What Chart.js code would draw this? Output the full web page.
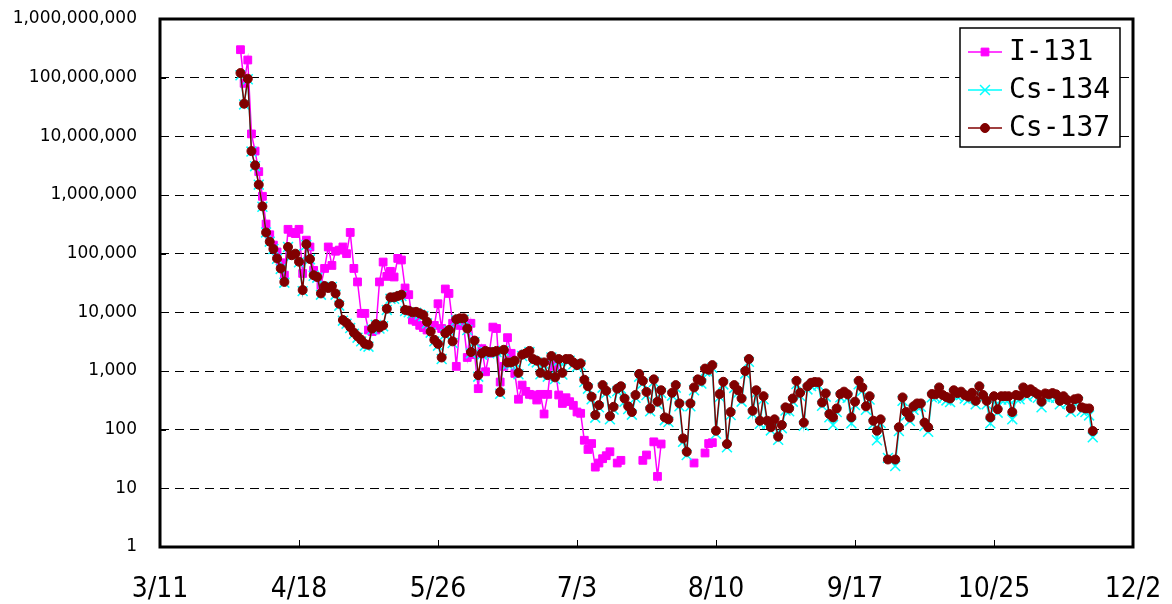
<!DOCTYPE html>
<html>
<head>
<meta charset="utf-8">
<script src="https://cdn.jsdelivr.net/npm/chart.js@4.4.0/dist/chart.umd.min.js"></script>
<style>
  body { margin: 0; background: #fff; }
  #wrap { position: relative; width: 1172px; height: 604px; }
</style>
</head>
<body>
<div id="wrap"><canvas id="chart" width="1172" height="604"></canvas></div>
<script>
// days are counted from 3/11; the first sample is 4/2 (day 22), one value per day
const firstDay = 22;
const seriesNames = ['I-131', 'Cs-134', 'Cs-137'];
const yTickValues = [1, 10, 100, 1000, 10000, 100000, 1000000, 10000000, 100000000, 1000000000];
const xTickStep = 38;

const i131 = [
  3.0e8, 8.0e7, 2.0e8, 1.1e7, 5.6e6, 2.5e6, 9.5e5, 3.2e5, 2.1e5, 1.4e5,   // 22-31
  1.07e5, 7.0e4, 4.3e4, 2.6e5, 2.3e5, 2.2e5, 2.6e5, 4.6e4, 1.7e5, 1.3e5,  // 32-41
  5.2e4, 4.0e4, 2.9e4, 5.6e4, 1.3e5, 6.3e4, 1.1e5, 1.15e5, 1.3e5, 1.0e5,  // 42-51
  2.3e5, 5.6e4, 3.3e4, 9.6e3, 9.6e3, 5.0e3, 4.7e3, 5.0e3, 3.3e4, 7.2e4,   // 52-61
  4.1e4, 5.0e4, 4.0e4, 8.3e4, 7.8e4, 2.6e4, 2.0e4, 7.4e3, 7.0e3, 6.0e3,   // 62-71
  5.5e3, 5.0e3, 5.5e3, 6.0e3, 1.4e4, 5.3e3, 2.5e4, 2.1e4, 6.5e3, 1.2e3,   // 72-81
  6.0e3, 6.0e3, 1.7e3, 6.5e3, 1.9e3, 500, 2.4e3, 970, 2.0e3, 5.6e3,       // 82-91
  5.3e3, 650, 1.2e3, 3.7e3, 2.0e3, 910, 330, 575, 450, 400,               // 92-101
  390, 320, 400, 185, 400, 1.5e3, 1.2e3, 390, 280, 350,                   // 102-111
  300, 260, 200, 190, 66, 46, 58, 23, 27, 32,                             // 112-121
  36, 42, null, 27, 30, null, null, null, null, null,                     // 122-131
  30, 37, null, 62, 16, 57, null, null, null, null,                       // 132-141
  null, null, null, null, 27, null, null, 40, 58, 60,                     // 142-151
  null, null, null, null, null, null, null, null, null, null,             // 152-161
  null, null, null, null, null, null, null, null, null, null,             // 162-171
  null, null, null, null, null, null, null, null, null, null,             // 172-181
  null, null, null, null, null, null, null, null, null, null,             // 182-191
  null, null, null, null, null, null, null, null, null, null,             // 192-201
  null, null, null, null, null, null, null, null, null, null,             // 202-211
  null, null, null, null, null, null, null, null, null, null,             // 212-221
  null, null, null, null, null, null, null, null, null, null,             // 222-231
  null, null, null, null, null, null, null, null, null, null,             // 232-241
  null, null, null, null, null, null, null, null, null, null,             // 242-251
  null, null, null, null                                                  // 252-255
];

const cs134 = [
  1.1e8, 3.5e7, 9.4e7, 5.5e6, 3.1e6, 1.5e6, 6.3e5, 2.3e5, 1.6e5, 1.2e5,   // 22-31
  8.2e4, 5.5e4, 3.2e4, 1.3e5, 9.2e4, 9.8e4, 7.1e4, 2.3e4, 1.4e5, 8.0e4,   // 32-41
  4.2e4, 3.9e4, 2.0e4, 2.7e4, 2.5e4, 2.7e4, 2.0e4, 1.3e4, 7.2e3, 6.4e3,   // 42-51
  5.4e3, 4.3e3, 3.7e3, 3.2e3, 2.7e3, 2.6e3, 5.1e3, 6.1e3, 5.3e3, 5.8e3,   // 52-61
  1.1e4, 1.7e4, 1.7e4, 1.8e4, 1.9e4, 1.05e4, 1.0e4, 9.6e3, 9.8e3, 9.2e3,  // 62-71
  8.6e3, 6.5e3, 4.5e3, 3.2e3, 2.7e3, 1.6e3, 4.2e3, 4.8e3, 3.0e3, 7.3e3,   // 72-81
  7.6e3, 7.5e3, 5.0e3, 2.0e3, 3.1e3, 800, 1.9e3, 2.1e3, 2.0e3, 2.0e3,     // 82-91
  2.1e3, 410, 2.2e3, 1.3e3, 1.3e3, 1.4e3, 880, 1.8e3, 1.9e3, 2.1e3,       // 92-101
  1.5e3, 1.4e3, 880, 1.3e3, 800, 1.7e3, 730, 1.5e3, 870, 1.5e3,           // 102-111
  1.5e3, 1.3e3, 1.18e3, 1.25e3, 650, 500, 330, 160, 240, 520,             // 112-121
  420, 150, 220, 450, 500, 300, 225, 180, 350, 800,                       // 122-131
  610, 390, 205, 650, 270, 420, 145, 135, 380, 520,                       // 132-141
  250, 62, 37, 250, 470, 650, 610, 980, 940, 1130,                        // 142-151
  85, 360, 590, 50, 178, 515, 420, 300, 900, 1430,                        // 152-161
  185, 420, 126, 330, 126, 97, 133, 67, 106, 212,                         // 162-171
  205, 300, 600, 375, 116, 485, 555, 575, 570, 255,                       // 172-181
  365, 162, 120, 200, 355, 390, 350, 128, 262, 595,                       // 182-191
  460, 218, 325, 124, 66, 130, null, 33, null, 24,                        // 192-201
  95, 310, 175, 140, 218, 245, 245, 115, 92, 355,                         // 202-211
  350, 460, 340, 315, 295, 410, 365, 390, 340, 318,                       // 212-221
  370, 270, 480, 340, 270, 128, 325, 195, 325, 325,                       // 222-231
  325, 150, 340, 330, 460, 365, 425, 385, 350, 240,                       // 232-241
  360, 350, 365, 350, 270, 325, 280, 200, 288, 296,                       // 242-251
  210, 200, 175, 74                                                       // 252-255
];

const cs137 = [
  1.2e8, 3.6e7, 9.6e7, 5.6e6, 3.2e6, 1.5e6, 6.4e5, 2.3e5, 1.6e5, 1.2e5,   // 22-31
  8.3e4, 5.6e4, 3.3e4, 1.3e5, 9.4e4, 1.0e5, 7.3e4, 2.4e4, 1.45e5, 8.1e4,  // 32-41
  4.3e4, 4.0e4, 2.1e4, 2.8e4, 2.6e4, 2.8e4, 2.1e4, 1.4e4, 7.4e3, 6.6e3,   // 42-51
  5.6e3, 4.5e3, 3.9e3, 3.4e3, 2.9e3, 2.8e3, 5.3e3, 6.3e3, 5.5e3, 6.0e3,   // 52-61
  1.15e4, 1.8e4, 1.8e4, 1.9e4, 2.0e4, 1.1e4, 1.07e4, 1.0e4, 1.02e4, 9.6e3, // 62-71
  9.0e3, 6.9e3, 4.7e3, 3.4e3, 2.9e3, 1.7e3, 4.4e3, 5.0e3, 3.2e3, 7.6e3,   // 72-81
  7.9e3, 7.9e3, 5.3e3, 2.1e3, 3.3e3, 850, 2.0e3, 2.2e3, 2.1e3, 2.1e3,     // 82-91
  2.2e3, 440, 2.3e3, 1.4e3, 1.4e3, 1.5e3, 930, 1.9e3, 2.0e3, 2.2e3,       // 92-101
  1.6e3, 1.5e3, 930, 1.4e3, 850, 1.8e3, 780, 1.6e3, 930, 1.6e3,           // 102-111
  1.6e3, 1.4e3, 1.26e3, 1.35e3, 710, 550, 365, 178, 262, 575,             // 112-121
  460, 170, 245, 500, 550, 340, 250, 200, 390, 890,                       // 122-131
  680, 440, 230, 720, 300, 470, 162, 150, 425, 575,                       // 132-141
  280, 71, 42, 280, 525, 720, 680, 1100, 1050, 1260,                      // 142-151
  96, 405, 655, 57, 200, 575, 470, 340, 1000, 1600,                       // 152-161
  210, 470, 142, 372, 142, 110, 150, 76, 120, 240,                        // 162-171
  230, 340, 680, 425, 132, 550, 630, 650, 645, 290,                       // 172-181
  415, 185, 162, 230, 405, 445, 400, 162, 300, 680,                       // 182-191
  525, 250, 372, 142, 96, 150, null, 31, null, 31,                        // 192-201
  110, 355, 200, 162, 250, 280, 280, 132, 110, 405,                       // 202-211
  400, 525, 390, 360, 340, 470, 420, 445, 390, 365,                       // 212-221
  425, 310, 550, 390, 310, 162, 372, 223, 372, 372,                       // 222-231
  372, 200, 390, 380, 525, 420, 488, 440, 400, 300,                       // 232-241
  415, 400, 420, 400, 310, 372, 320, 230, 330, 340,                       // 242-251
  240, 230, 230, 95                                                       // 252-255
];

const colors = ['#ff00ff', '#00ffff', '#800000'];
const pointStyles = ['rect', 'crossRot', 'circle'];
const pointSizes = [5.5, 7, 4.5];
const pointLines = [1, 1.5, 1];

// turn a day count (from 3/11) into an M/D label
function dayLabel(day) {
  const d = new Date(2011, 2, 11 + day);
  return (d.getMonth() + 1) + '/' + d.getDate();
}

function toPoints(values) {
  return values.map((v, i) => ({ x: firstDay + i, y: v }));
}

const datasets = [i131, cs134, cs137].map((vals, k) => ({
  label: seriesNames[k],
  data: toPoints(vals),
  borderColor: colors[k],
  backgroundColor: colors[k],
  borderWidth: 1.5,
  pointStyle: pointStyles[k],
  pointRadius: pointSizes[k],
  pointBorderColor: colors[k],
  pointBackgroundColor: colors[k],
  pointBorderWidth: pointLines[k],
  spanGaps: k > 0,     // I-131 has real gaps, the caesium lines are joined
  order: 3 - k,        // Cs-137 drawn on top
  tension: 0
}));

// frame, inner tick marks and the boxed legend
const framePlugin = {
  id: 'frame',
  afterDatasetsDraw(chart) {
    const c = chart.ctx;
    const a = chart.chartArea;
    const xs = chart.scales.x, ys = chart.scales.y;
    c.save();
    c.strokeStyle = '#000';
    c.lineWidth = 1;
    c.beginPath();
    xs.ticks.forEach(t => {
      const px = Math.round(xs.getPixelForValue(t.value)) + 0.5;
      c.moveTo(px, a.bottom);
      c.lineTo(px, a.bottom - 7);
    });
    yTickValues.forEach(v => {
      const py = Math.round(ys.getPixelForValue(v)) + 0.5;
      c.moveTo(a.left, py);
      c.lineTo(a.left + 6, py);
    });
    c.stroke();

    c.lineWidth = 3;
    c.strokeRect(a.left, a.top, a.right - a.left, a.bottom - a.top);

    // legend box
    const lx = 960, ly = 28, lw = 160, lh = 119;
    c.fillStyle = '#fff';
    c.fillRect(lx, ly, lw, lh);
    c.lineWidth = 1.5;
    c.strokeRect(lx, ly, lw, lh);
    c.font = '28px "DejaVu Sans Mono", monospace';
    c.textBaseline = 'middle';
    seriesNames.forEach((name, k) => {
      const y = ly + 24 + k * 38;
      c.strokeStyle = colors[k];
      c.lineWidth = 1.5;
      c.beginPath();
      c.moveTo(lx + 8, y);
      c.lineTo(lx + 42, y);
      c.stroke();
      c.fillStyle = colors[k];
      c.lineWidth = pointLines[k];
      Chart.helpers.drawPoint(c, { pointStyle: pointStyles[k], radius: pointSizes[k], borderWidth: pointLines[k] }, lx + 25, y);
      c.fillStyle = '#000';
      c.fillText(name, lx + 49, y + 1);
    });
    c.restore();
  }
};

// invisible tick marks give the label gap; ticks.padding would also widen the chart margins
const hidden = 'rgba(0,0,0,0)';

new Chart(document.getElementById('chart'), {
  type: 'line',
  data: { datasets: datasets },
  options: {
    responsive: false,
    animation: false,
    layout: { padding: { top: 19, right: 39, left: 0, bottom: 0 } },
    plugins: {
      legend: { display: false },
      tooltip: { enabled: false }
    },
    scales: {
      x: {
        type: 'linear',
        min: 0,
        max: 266,
        afterFit: s => { s.height = 57; },
        ticks: {
          stepSize: xTickStep,
          autoSkip: false,
          maxRotation: 0,
          padding: 0,
          color: '#000',
          font: { family: '"DejaVu Sans Condensed", "Liberation Sans Narrow", sans-serif', size: 28 },
          callback: v => dayLabel(v)
        },
        grid: { display: true, drawOnChartArea: false, drawTicks: true, tickLength: 26, color: hidden, tickColor: hidden },
        border: { display: false }
      },
      y: {
        type: 'logarithmic',
        min: 1,
        max: 1e9,
        afterFit: s => { s.width = 160; },
        afterBuildTicks: s => { s.ticks = yTickValues.map(v => ({ value: v })); },
        ticks: {
          padding: 0,
          color: '#000',
          font: { family: '"DejaVu Sans", sans-serif', size: 17 },
          callback: v => Number(v).toLocaleString('en-US')
        },
        grid: { color: '#000', lineWidth: 1, drawTicks: true, tickLength: 23, tickColor: hidden },
        border: { display: false, dash: [9, 6] }
      }
    }
  },
  plugins: [framePlugin]
});
</script>
</body>
</html>
